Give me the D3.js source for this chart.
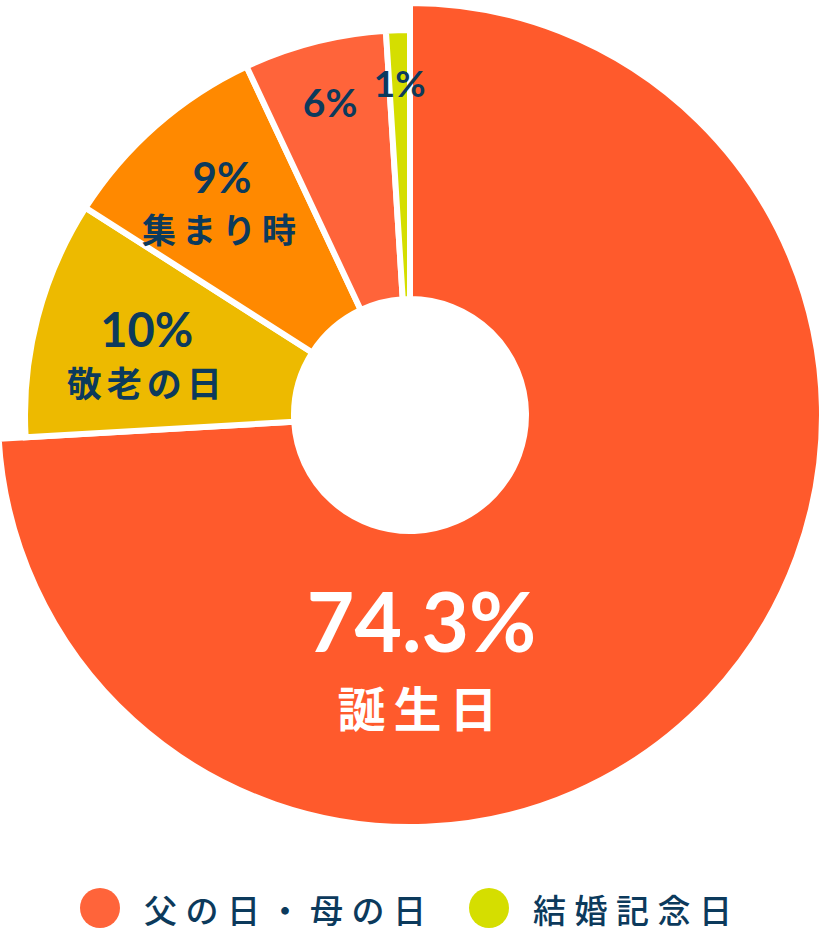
<!DOCTYPE html>
<html>
<head>
<meta charset="utf-8">
<script src="https://cdn.jsdelivr.net/npm/d3@7"></script>
<style>
  html, body { margin: 0; padding: 0; background: #fff; }
  svg { display: block; }
</style>
</head>
<body>
<div id="chart"></div>
<script>
// data, clockwise from 12 o'clock
var categories = ["誕生日", "敬老の日", "集まり時", "父の日・母の日", "結婚記念日"];
var values = [74.3, 10, 9, 6, 1];
var valueLabels = ["74.3%", "10%", "9%", "6%", "1%"];
var colors = ["#FF5A2C", "#EDBA00", "#FF8900", "#FF643A", "#D5DE00"];
var legendItems = ["父の日・母の日", "結婚記念日"];

var width = 820, height = 933;
var cx = 410, cy = 415;
var innerR = 116, bigR = 412, smallR = 385;
var textColor = "#0C3A5C";

var svg = d3.select("#chart").append("svg")
    .attr("width", width)
    .attr("height", height);

var g = svg.append("g").attr("transform", "translate(" + cx + "," + cy + ")");

var pie = d3.pie().sort(null).value(function (d) { return d.value; });
var slices = pie(categories.map(function (c, i) {
    return { name: c, value: values[i], label: valueLabels[i], color: colors[i], i: i };
}));

var arc = d3.arc()
    .innerRadius(innerR)
    .outerRadius(function (d) { return d.data.i === 0 ? bigR : smallR; });

g.selectAll(".slice")
    .data(slices)
    .enter().append("path")
    .attr("class", "slice")
    .attr("d", arc)
    .attr("fill", function (d) { return d.data.color; })
    .attr("stroke", "#fff")
    .attr("stroke-width", 6)
    .attr("stroke-linejoin", "miter");

// label placement per slice: radius, font sizes, baseline offsets
var labelConf = {
    "誕生日": { r: 245, angle: Math.PI * 0.985, pct: 82, dy1: -8, name: 48, dy2: 67, ls: 8, fill: "#fff" },
    "敬老の日": { r: 272, pct: 47, dy1: 1, name: 35, dy2: 51, ls: 5 },
    "集まり時": { r: 285, pct: 42, dy1: -8, name: 34, dy2: 42, ls: 6 },
    "父の日・母の日": { r: 322, pct: 39, dy1: 14 },
    "結婚記念日": { r: 331, pct: 37, dy1: 13 }
};

var labels = g.selectAll(".label")
    .data(slices)
    .enter().append("g")
    .attr("class", "label")
    .attr("transform", function (d) {
        var c = labelConf[d.data.name];
        var a = c.angle !== undefined ? c.angle : (d.startAngle + d.endAngle) / 2;
        var x = Math.sin(a) * c.r;
        var y = -Math.cos(a) * c.r;
        return "translate(" + x + "," + y + ")";
    });

labels.append("text")
    .attr("text-anchor", "middle")
    .attr("y", function (d) { return labelConf[d.data.name].dy1; })
    .attr("font-family", "Lato, 'Noto Sans', sans-serif")
    .attr("font-weight", 700)
    .attr("font-size", function (d) { return labelConf[d.data.name].pct; })
    .attr("fill", function (d) { return labelConf[d.data.name].fill || textColor; })
    .text(function (d) { return d.data.label; });

labels.filter(function (d) { return labelConf[d.data.name].name; })
    .append("text")
    .attr("text-anchor", "middle")
    .attr("y", function (d) { return labelConf[d.data.name].dy2; })
    .attr("font-family", "'Noto Sans CJK JP', sans-serif")
    .attr("font-weight", 700)
    .attr("font-size", function (d) { return labelConf[d.data.name].name; })
    .style("letter-spacing", function (d) { return labelConf[d.data.name].ls + "px"; })
    .attr("fill", function (d) { return labelConf[d.data.name].fill || textColor; })
    .text(function (d) { return d.data.name; });

// legend
var legendX = d3.scalePoint().domain(legendItems).range([100, 489]);
var legend = svg.selectAll(".legend")
    .data(legendItems)
    .enter().append("g")
    .attr("class", "legend")
    .attr("transform", function (d) { return "translate(" + legendX(d) + ",908)"; });

legend.append("circle")
    .attr("r", 20)
    .attr("fill", function (d) { return colors[categories.indexOf(d)]; });

legend.append("text")
    .attr("x", 44)
    .attr("y", 15)
    .attr("font-family", "'Noto Sans CJK JP', sans-serif")
    .attr("font-weight", 500)
    .attr("font-size", 33)
    .style("letter-spacing", "8.5px")
    .attr("fill", textColor)
    .text(function (d) { return d; });
</script>
</body>
</html>
